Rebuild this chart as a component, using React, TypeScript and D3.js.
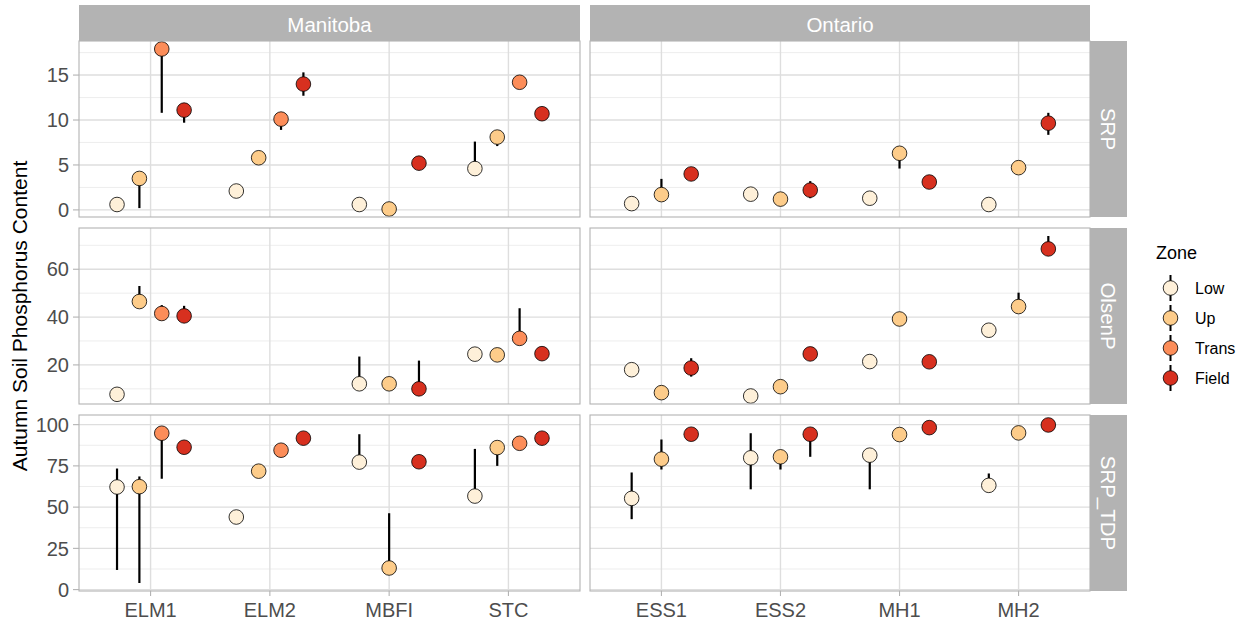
import React from "react";
import * as d3 from "d3";

// ---------------- data ----------------
const regions = ["Manitoba", "Ontario"];
const manitobaSites = ["ELM1", "ELM2", "MBFI", "STC"];
const ontarioSites = ["ESS1", "ESS2", "MH1", "MH2"];
const zones = ["Low", "Up", "Trans", "Field"];
const zoneColors = ["#FEF0D9", "#FDCC8A", "#FC8D59", "#D7301F"];
const variables = ["SRP", "OlsenP", "SRP_TDP"];
const srpTicks = [0, 5, 10, 15];
const olsenTicks = [20, 40, 60];
const tdpTicks = [0, 25, 50, 75, 100];

// [site, zone, mean, lower, upper]
type Row = [string, string, number, number, number];

const srpRows: Row[] = [
  ["ELM1", "Low", 0.6, 0.6, 0.6],
  ["ELM1", "Up", 3.5, 0.2, 3.8],
  ["ELM1", "Trans", 17.9, 10.8, 17.9],
  ["ELM1", "Field", 11.1, 9.7, 11.4],
  ["ELM2", "Low", 2.1, 2.1, 2.1],
  ["ELM2", "Up", 5.8, 5.8, 5.8],
  ["ELM2", "Trans", 10.1, 8.9, 10.3],
  ["ELM2", "Field", 14.0, 12.7, 15.3],
  ["MBFI", "Low", 0.6, 0.6, 0.6],
  ["MBFI", "Up", 0.1, 0.1, 0.1],
  ["MBFI", "Field", 5.2, 5.2, 5.2],
  ["STC", "Low", 4.6, 4.6, 7.6],
  ["STC", "Up", 8.1, 7.1, 8.3],
  ["STC", "Trans", 14.2, 14.2, 14.2],
  ["STC", "Field", 10.7, 10.7, 10.7],
  ["ESS1", "Low", 0.7, 0.7, 0.7],
  ["ESS1", "Up", 1.7, 1.2, 3.45],
  ["ESS1", "Field", 4.0, 4.0, 4.0],
  ["ESS2", "Low", 1.75, 1.75, 1.75],
  ["ESS2", "Up", 1.2, 1.2, 1.2],
  ["ESS2", "Field", 2.2, 1.3, 3.2],
  ["MH1", "Low", 1.3, 1.3, 1.3],
  ["MH1", "Up", 6.3, 4.6, 6.5],
  ["MH1", "Field", 3.1, 3.1, 3.1],
  ["MH2", "Low", 0.6, 0.6, 0.6],
  ["MH2", "Up", 4.7, 4.7, 4.7],
  ["MH2", "Field", 9.65, 8.35, 10.8],
];

const olsenRows: Row[] = [
  ["ELM1", "Low", 7.7, 7.7, 7.7],
  ["ELM1", "Up", 46.5, 45.5, 53.0],
  ["ELM1", "Trans", 41.5, 41.0, 45.0],
  ["ELM1", "Field", 40.5, 40.0, 44.7],
  ["MBFI", "Low", 12.1, 12.1, 23.5],
  ["MBFI", "Up", 12.1, 12.1, 12.1],
  ["MBFI", "Field", 10.0, 9.5, 21.8],
  ["STC", "Low", 24.5, 24.5, 24.5],
  ["STC", "Up", 24.2, 24.2, 24.2],
  ["STC", "Trans", 31.1, 30.0, 43.7],
  ["STC", "Field", 24.7, 24.7, 24.7],
  ["ESS1", "Low", 18.0, 18.0, 18.0],
  ["ESS1", "Up", 8.4, 8.4, 8.4],
  ["ESS1", "Field", 18.7, 15.1, 22.8],
  ["ESS2", "Low", 7.0, 7.0, 7.0],
  ["ESS2", "Up", 10.9, 10.9, 10.9],
  ["ESS2", "Field", 24.6, 24.6, 24.6],
  ["MH1", "Low", 21.4, 21.4, 21.4],
  ["MH1", "Up", 39.2, 39.2, 39.2],
  ["MH1", "Field", 21.3, 21.3, 21.3],
  ["MH2", "Low", 34.5, 34.5, 34.5],
  ["MH2", "Up", 44.4, 43.0, 50.2],
  ["MH2", "Field", 68.5, 65.6, 73.9],
];

const tdpRows: Row[] = [
  ["ELM1", "Low", 62.2, 11.9, 73.4],
  ["ELM1", "Up", 62.4, 4.0, 68.6],
  ["ELM1", "Trans", 94.8, 67.2, 95.5],
  ["ELM1", "Field", 86.3, 86.3, 86.3],
  ["ELM2", "Low", 44.0, 44.0, 44.0],
  ["ELM2", "Up", 71.8, 71.8, 71.8],
  ["ELM2", "Trans", 84.5, 84.5, 84.5],
  ["ELM2", "Field", 91.8, 91.8, 91.8],
  ["MBFI", "Low", 77.3, 77.3, 94.2],
  ["MBFI", "Up", 13.1, 13.1, 46.3],
  ["MBFI", "Field", 77.5, 77.5, 77.5],
  ["STC", "Low", 56.7, 56.7, 85.3],
  ["STC", "Up", 86.1, 75.0, 87.0],
  ["STC", "Trans", 88.7, 88.7, 88.7],
  ["STC", "Field", 91.8, 91.8, 91.8],
  ["ESS1", "Low", 55.3, 42.7, 71.0],
  ["ESS1", "Up", 79.1, 72.8, 91.0],
  ["ESS1", "Field", 94.2, 94.2, 94.2],
  ["ESS2", "Low", 79.9, 60.8, 94.8],
  ["ESS2", "Up", 80.5, 72.8, 84.5],
  ["ESS2", "Field", 94.2, 80.5, 95.0],
  ["MH1", "Low", 81.5, 60.8, 82.5],
  ["MH1", "Up", 94.0, 94.0, 94.0],
  ["MH1", "Field", 98.2, 98.2, 98.2],
  ["MH2", "Low", 63.2, 63.2, 70.4],
  ["MH2", "Up", 95.0, 95.0, 95.0],
  ["MH2", "Field", 99.8, 99.8, 101.0],
];

const rowsByVariable: Row[][] = [srpRows, olsenRows, tdpRows];
const ticksByVariable: number[][] = [srpTicks, olsenTicks, tdpTicks];
const sitesByRegion: string[][] = [manitobaSites, ontarioSites];

// ---------------- layout ----------------
const W = 1251;
const H = 623;
const panelX = [
  [79, 580],
  [590, 1090],
];
const panelY = [
  [41, 217],
  [228, 404],
  [415, 591],
];
const stripTop = 5;
const stripRight = 1127;
const FONT = "'Liberation Sans', Arial, Helvetica, sans-serif";
const DODGE = 0.75;
const R = 7.3;

const colorScale = d3.scaleOrdinal<string, string>().domain(zones).range(zoneColors);

function yDomain(rows: Row[]): [number, number] {
  const lo = d3.min(rows, (r) => Math.min(r[2], r[3], r[4])) as number;
  const hi = d3.max(rows, (r) => Math.max(r[2], r[3], r[4])) as number;
  const pad = (hi - lo) * 0.05;
  return [lo - pad, hi + pad];
}

function minorBreaks(ticks: number[], domain: [number, number]): number[] {
  const step = ticks[1] - ticks[0];
  const out: number[] = [];
  const ext = [ticks[0] - step, ...ticks, ticks[ticks.length - 1] + step];
  for (let i = 0; i < ext.length - 1; i++) {
    const m = (ext[i] + ext[i + 1]) / 2;
    if (m >= domain[0] && m <= domain[1]) out.push(m);
  }
  return out;
}

function Panel({ vi, ri }: { vi: number; ri: number }) {
  const [x0, x1] = panelX[ri];
  const [y0, y1] = panelY[vi];
  const sites = sitesByRegion[ri];
  const allRows = rowsByVariable[vi];
  const rows = allRows.filter((r) => sites.includes(r[0]));
  const domain = yDomain(allRows);
  const y = d3.scaleLinear().domain(domain).range([y1, y0]);
  const x = d3.scalePoint<string>().domain(sites).range([x0, x1]).padding(0.6);
  const step = x.step();
  const ticks = ticksByVariable[vi];
  const minors = minorBreaks(ticks, domain);

  const dodged = rows.map((r) => {
    const present = zones.filter((z) => rows.some((q) => q[0] === r[0] && q[1] === z));
    const n = present.length;
    const i = present.indexOf(r[1]);
    const off = (i - (n - 1) / 2) * (DODGE / n) * step;
    return { row: r, cx: (x(r[0]) as number) + off };
  });

  return (
    <g>
      <rect x={x0} y={y0} width={x1 - x0} height={y1 - y0} fill="#FFFFFF" />
      {minors.map((m) => (
        <line key={"mn" + m} x1={x0} x2={x1} y1={y(m)} y2={y(m)} stroke="#EBEBEB" strokeWidth={0.9} />
      ))}
      {ticks.map((t) => (
        <line key={"mj" + t} x1={x0} x2={x1} y1={y(t)} y2={y(t)} stroke="#DEDEDE" strokeWidth={1.4} />
      ))}
      {sites.map((s) => (
        <line key={"vx" + s} x1={x(s)} x2={x(s)} y1={y0} y2={y1} stroke="#DEDEDE" strokeWidth={1.4} />
      ))}
      {dodged.map(({ row, cx }, k) =>
        row[4] - row[3] > 0 ? (
          <line key={"eb" + k} x1={cx} x2={cx} y1={y(row[3])} y2={y(row[4])} stroke="#000000" strokeWidth={2.2} />
        ) : null
      )}
      {dodged.map(({ row, cx }, k) => (
        <circle key={"pt" + k} cx={cx} cy={y(row[2])} r={R} fill={colorScale(row[1])} stroke="#000000" strokeWidth={0.8} />
      ))}
      <rect x={x0} y={y0} width={x1 - x0} height={y1 - y0} fill="none" stroke="#B3B3B3" strokeWidth={1.1} />
      {ri === 0 &&
        ticks.map((t) => (
          <g key={"yt" + t}>
            <line x1={x0 - 6} x2={x0} y1={y(t)} y2={y(t)} stroke="#B3B3B3" strokeWidth={1.1} />
            <text x={x0 - 10} y={y(t)} dy="0.36em" textAnchor="end" fontSize={20} fill="#4D4D4D" fontFamily={FONT}>
              {t}
            </text>
          </g>
        ))}
      {vi === 2 &&
        sites.map((s) => (
          <g key={"xt" + s}>
            <line x1={x(s)} x2={x(s)} y1={y1} y2={y1 + 5} stroke="#B3B3B3" strokeWidth={1.1} />
            <text x={x(s)} y={y1 + 19} dy="0.36em" textAnchor="middle" fontSize={20} fill="#4D4D4D" fontFamily={FONT}>
              {s}
            </text>
          </g>
        ))}
    </g>
  );
}

export default function App() {
  const legendY = [288, 318, 348, 378];
  const midY = (panelY[0][0] + panelY[2][1]) / 2;
  return (
    <svg
      width={W}
      height={H}
      style={{ position: "absolute", left: 0, top: 0, background: "#FFFFFF" }}
      fontFamily={FONT}
    >
      <rect x={0} y={0} width={W} height={H} fill="#FFFFFF" />
      {/* top strips */}
      {regions.map((reg, ri) => (
        <g key={reg}>
          <rect x={panelX[ri][0]} y={stripTop} width={panelX[ri][1] - panelX[ri][0]} height={panelY[0][0] - stripTop} fill="#B3B3B3" />
          <text
            x={(panelX[ri][0] + panelX[ri][1]) / 2}
            y={(stripTop + panelY[0][0]) / 2 + 1.5}
            dy="0.36em"
            textAnchor="middle"
            fontSize={20.5}
            fill="#FFFFFF"
          >
            {reg}
          </text>
        </g>
      ))}
      {/* right strips */}
      {variables.map((v, vi) => {
        const cx = (panelX[1][1] + stripRight) / 2;
        const cy = (panelY[vi][0] + panelY[vi][1]) / 2;
        return (
          <g key={v}>
            <rect x={panelX[1][1]} y={panelY[vi][0]} width={stripRight - panelX[1][1]} height={panelY[vi][1] - panelY[vi][0]} fill="#B3B3B3" />
            <text x={cx} y={cy} dy="0.36em" textAnchor="middle" fontSize={20.5} fill="#FFFFFF" transform={`rotate(90 ${cx} ${cy})`}>
              {v}
            </text>
          </g>
        );
      })}
      {variables.map((v, vi) =>
        regions.map((reg, ri) => <Panel key={v + reg} vi={vi} ri={ri} />)
      )}
      {/* y axis title */}
      <text
        x={19.5}
        y={midY}
        dy="0.36em"
        textAnchor="middle"
        fontSize={21}
        fill="#000000"
        transform={`rotate(-90 19.5 ${midY})`}
      >
        Autumn Soil Phosphorus Content
      </text>
      {/* legend */}
      <text x={1156} y={253} dy="0.36em" fontSize={18} fill="#000000">
        Zone
      </text>
      {zones.map((z, i) => (
        <g key={z}>
          <line x1={1170.5} x2={1170.5} y1={legendY[i] - 13} y2={legendY[i] + 13} stroke="#000000" strokeWidth={2} />
          <circle cx={1170.5} cy={legendY[i]} r={R} fill={colorScale(z)} stroke="#000000" strokeWidth={0.8} />
          <text x={1195} y={legendY[i]} dy="0.36em" fontSize={16} fill="#000000">
            {z}
          </text>
        </g>
      ))}
    </svg>
  );
}
